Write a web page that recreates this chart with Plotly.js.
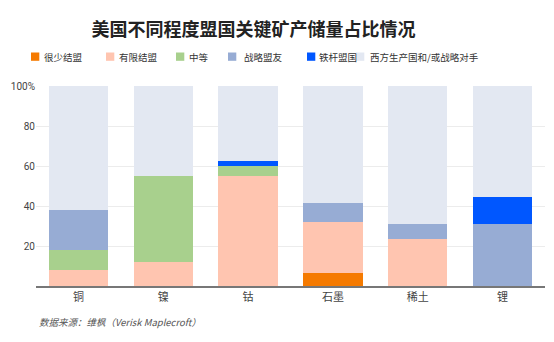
<!DOCTYPE html>
<html>
<head>
<meta charset="utf-8">
<script src="https://cdn.plot.ly/plotly-3.0.1.min.js"></script>
<style>html,body{margin:0;padding:0;background:#fff;}#chart{width:554px;height:342px;}</style>
</head>
<body>
<div id="chart"></div>
<script>
const categories = ["铜", "镍", "钴", "石墨", "稀土", "锂"];
const seriesNames = ["很少结盟", "有限结盟", "中等", "战略盟友", "铁杆盟国", "西方生产国和/或战略对手"];
const veryFew   = [0, 0, 0, 6.5, 0, 0];
const limited   = [8, 12, 55, 25.5, 23.5, 0];
const moderate  = [10, 43, 5, 0, 0, 0];
const strategic = [20, 0, 0, 9.5, 7.5, 31];
const steadfast = [0, 0, 2.5, 0, 0, 13.5];
const western   = [62, 45, 37.5, 58.5, 69, 55.5];
const yTickVals = [20, 40, 60, 80, 100];
const yTickText = ["20", "40", "60", "80", "100%"];
const colors = ["#F57A00", "#FFC5B0", "#A8D08D", "#97ACD4", "#0057FF", "#E3E8F2"];

const values = [veryFew, limited, moderate, strategic, steadfast, western];
const traces = values.map((v, i) => ({
  type: "bar",
  name: seriesNames[i],
  x: categories,
  y: v,
  marker: {color: colors[i], line: {width: 0}},
  showlegend: false,
  hoverinfo: "x+y+name"
}));

// Legend layout (pixel positions of each key square's left edge and label start)
const W = 554, H = 342;
const keyLeft = [31, 106, 176, 228, 307, 356];
const labelLeft = [42, 117, 187, 242, 317, 368];
const keyTop = 52.5, keySize = 8.3, labelMid = 56.7;

const shapes = seriesNames.map((n, i) => ({
  type: "rect", xref: "paper", yref: "paper", layer: "above",
  x0: 0, x1: 0, y0: 0, y1: 0,
  fillcolor: colors[i], line: {width: 0},
  _px: [keyLeft[i], keyTop]
}));

const annotations = seriesNames.map((n, i) => ({
  text: n, xref: "paper", yref: "paper",
  x: 0, y: 0, xanchor: "left", yanchor: "middle", showarrow: false,
  font: {family: "Noto Sans CJK SC", size: 9.5, color: "#333"},
  _px: [labelLeft[i], labelMid]
}));
annotations.push({
  text: "<i>数据来源：维枫（Verisk Maplecroft）</i>",
  xref: "paper", yref: "paper", x: 0, y: 0, xanchor: "left", yanchor: "middle",
  showarrow: false,
  font: {family: "Noto Sans CJK SC", size: 9.5, color: "#555"},
  _px: [37, 321.5]
});

const margin = {l: 36, r: 9, t: 86, b: 56};
const pw = W - margin.l - margin.r, ph = H - margin.t - margin.b;
const toPX = px => (px - margin.l) / pw;
const toPY = py => (H - margin.b - py) / ph;
shapes.forEach(s => {
  const [px, py] = s._px; delete s._px;
  s.x0 = toPX(px); s.x1 = toPX(px + keySize);
  s.y1 = toPY(py); s.y0 = toPY(py + keySize);
});
annotations.forEach(a => {
  const [px, py] = a._px; delete a._px;
  a.x = toPX(px); a.y = toPY(py);
});

const layout = {
  width: W, height: H,
  paper_bgcolor: "#fff", plot_bgcolor: "#fff",
  barmode: "stack",
  bargap: 0.3,
  margin: margin,
  showlegend: false,
  title: {
    text: "<b>美国不同程度盟国关键矿产储量占比情况</b>",
    font: {family: "Noto Sans CJK SC", size: 18, color: "#222"},
    x: 253.5 / W, xanchor: "center", y: 1 - 29.5 / H, yanchor: "middle"
  },
  xaxis: {
    type: "category",
    showline: true, linecolor: "#777", linewidth: 1.5,
    ticks: "", showgrid: false,
    tickfont: {family: "Noto Sans CJK SC", size: 11, color: "#444"}
  },
  yaxis: {
    range: [0, 100],
    tickvals: yTickVals, ticktext: yTickText,
    showgrid: true, gridcolor: "#ececec", gridwidth: 1,
    zeroline: false, showline: false, ticks: "",
    tickfont: {family: "Roboto", size: 10, color: "#444"}
  },
  shapes: shapes,
  annotations: annotations
};

Plotly.newPlot("chart", traces, layout, {displayModeBar: false, staticPlot: true});
</script>
</body>
</html>
